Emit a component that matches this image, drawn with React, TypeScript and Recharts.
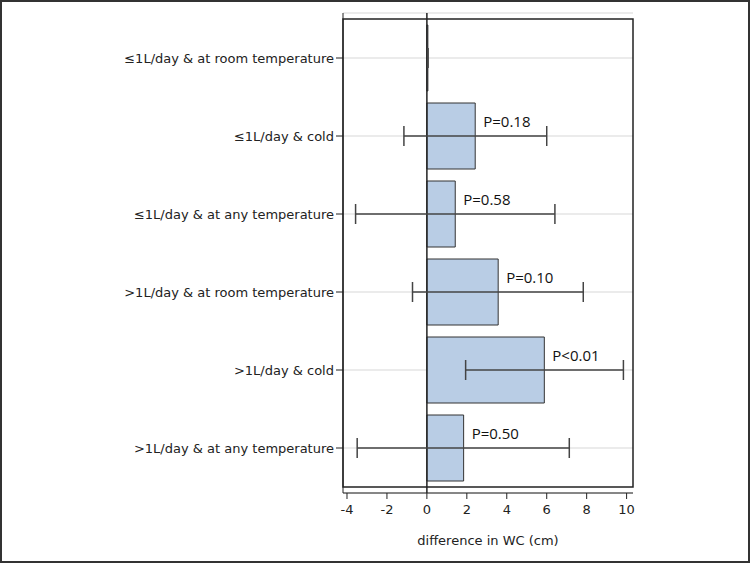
import { Bar, BarChart, CartesianGrid, ErrorBar, LabelList, ReferenceArea, ReferenceLine, XAxis, YAxis } from "recharts"

const groups = [
  "≤1L/day & at room temperature",
  "≤1L/day & cold",
  "≤1L/day & at any temperature",
  ">1L/day & at room temperature",
  ">1L/day & cold",
  ">1L/day & at any temperature",
]
const diffs = [0.05, 2.42, 1.42, 3.57, 5.88, 1.84]
const lower = [0.05, -1.15, -3.57, -0.72, 1.94, -3.49]
const upper = [0.05, 6.0, 6.41, 7.83, 9.84, 7.13]
const pLabels = ["", "P=0.18", "P=0.58", "P=0.10", "P<0.01", "P=0.50"]
const xTicks = [-4, -2, 0, 2, 4, 6, 8, 10]

const data = groups.map((g, i) => ({
  name: g,
  diff: diffs[i],
  err: [diffs[i] - lower[i], upper[i] - diffs[i]],
  p: pLabels[i],
}))

const PLabel = (props: any) => {
  const { x, y, width, height, value } = props
  if (!value) return null
  return (
    <text
      x={x + width + 8}
      y={y + height / 2 - 15}
      fontFamily="Open Sans"
      fontSize={15}
      fill="#111"
      dominantBaseline="central"
    >
      {value}
    </text>
  )
}

export default function App() {
  return (
    <div
      style={{
        position: "absolute",
        left: 0,
        top: 0,
        width: 750,
        height: 563,
        border: "2px solid #333",
        boxSizing: "border-box",
        background: "#fff",
      }}
    >
      <div style={{ position: "absolute", left: -2, top: -2 }}>
        <BarChart
          width={750}
          height={563}
          data={data}
          layout="vertical"
          margin={{ top: 13, right: 117, bottom: 0, left: 0 }}
        >
          <CartesianGrid horizontal vertical={false} stroke="#e4e4e4" strokeWidth={1.5} />
          <XAxis
            type="number"
            domain={[-4.2, 10.32]}
            allowDataOverflow
            ticks={xTicks}
            height={70}
            tickSize={6}
            tickMargin={6}
            tick={{ fontFamily: "DejaVu Sans", fontSize: 13, fill: "#222" }}
            stroke="#222"
            label={{ value: "difference in WC (cm)", position: "insideBottom", offset: 18, fontFamily: "DejaVu Sans", fontSize: 13, fill: "#222" }}
          />
          <YAxis
            type="category"
            dataKey="name"
            width={343}
            padding={{ top: 6, bottom: 6 }}
            tickSize={7}
            tick={{ fontFamily: "DejaVu Sans", fontSize: 13, fill: "#222" }}
            stroke="#222"
          />
          <ReferenceLine x={0} stroke="#222" strokeWidth={1.5} />
          <Bar dataKey="diff" fill="#b9cde5" stroke="#333" strokeWidth={1} barSize={66} isAnimationActive={false}>
            <ErrorBar dataKey="err" direction="x" width={10} stroke="#444" strokeWidth={1.5} />
            <LabelList dataKey="p" content={PLabel} />
          </Bar>
          <ReferenceArea x1={-4.2} x2={10.32} fill="none" stroke="#222" strokeWidth={1.5} />
        </BarChart>
      </div>
    </div>
  )
}
